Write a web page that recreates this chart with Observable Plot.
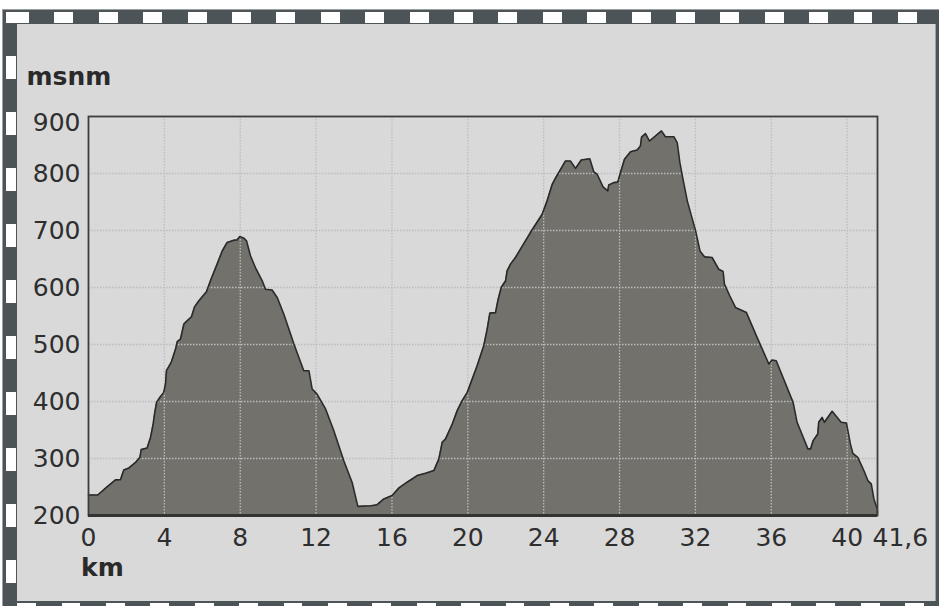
<!DOCTYPE html>
<html>
<head>
<meta charset="utf-8">
<script src="https://cdn.jsdelivr.net/npm/d3@7"></script>
<script src="https://cdn.jsdelivr.net/npm/@observablehq/plot@0.6"></script>
<style>
  html, body { margin: 0; padding: 0; background: #fff; }
  #page { position: relative; width: 939px; height: 606px; overflow: hidden; background: #fff; }
  .abs { position: absolute; }
  #outer { left: 3px; top: 10px; width: 960px; height: 620px; background: #4c5457; box-shadow: 0 0 0 1px #9ca1a3; }
  #inner { left: 17px; top: 24px; width: 918px; height: 577px; background: #d9d9d9; border-right: 1px solid #9ea3a5; }
  #topdash { left: 0; top: 12px; width: 939px; height: 11px;
    background: repeating-linear-gradient(to right, transparent 0 9.9px, #fff 9.9px 28.9px, transparent 28.9px 44.4px); }
  #topfirst { left: 6px; top: 12px; width: 5px; height: 11px; background: #fff; }
  #leftdash { left: 6px; top: 24px; width: 10px; height: 577px;
    background: repeating-linear-gradient(to bottom, transparent 0 32px, #fff 32px 55px, transparent 55px 56px); }
  #botdash { left: 0; top: 603px; width: 939px; height: 11px;
    background: repeating-linear-gradient(to right, transparent 0 17.3px, #fff 17.3px 36px, transparent 36px 44.4px); }
  .lbl { font-family: "DejaVu Sans", Verdana, sans-serif; font-weight: bold; font-size: 25px; line-height: 25px; color: #2a2a2a; white-space: nowrap; }
  #chart { left: 0; top: 0; }
</style>
</head>
<body>
<div id="page">
  <div id="outer" class="abs"></div>
  <div id="inner" class="abs"></div>
  <div id="topdash" class="abs"></div>
  <div id="topfirst" class="abs"></div>
  <div id="leftdash" class="abs"></div>
  <div id="botdash" class="abs"></div>
  <div id="chart" class="abs"></div>
  <div class="abs lbl" style="left:26.5px; top:63.85px;">msnm</div>
  <div class="abs lbl" style="left:81px; top:554.85px;">km</div>
</div>
<script>
const km = [0,0.49,0.9,1.42,1.69,1.86,2.13,2.48,2.71,2.78,3.09,3.27,3.41,3.48,3.59,3.76,3.97,4.06,4.11,4.36,4.59,4.68,4.85,5.03,5.11,5.43,5.59,5.82,6.22,6.43,6.78,7.05,7.31,7.66,7.84,7.98,8.19,8.33,8.54,8.8,9.16,9.33,9.68,9.95,10.3,10.83,11.35,11.62,11.79,12.05,12.5,12.93,13.46,13.9,14.2,14.9,15.22,15.57,16.01,16.37,16.8,17.33,17.77,18.21,18.47,18.65,18.82,19.18,19.44,19.7,19.97,20.49,20.84,21.02,21.16,21.46,21.58,21.76,21.99,22.07,22.25,22.51,23.3,23.92,24.18,24.45,24.62,25.15,25.41,25.68,25.98,26.43,26.64,26.82,27.13,27.38,27.43,27.7,27.91,28.01,28.26,28.58,28.93,29.1,29.16,29.37,29.58,30.21,30.42,30.86,31.04,31.18,31.31,31.57,32.01,32.24,32.48,32.88,33.23,33.46,33.53,33.81,34.11,34.69,35.25,35.87,36.04,36.26,37.15,37.36,37.93,38.07,38.21,38.45,38.5,38.68,38.8,39.21,39.68,39.96,40.17,40.3,40.56,40.88,41.09,41.27,41.41,41.58,41.6];
const elev = [236,236,248,262.5,263,280,283.5,293,302,315.6,318.6,337,360.7,378,398.5,407,416,430.8,454,468.6,492,505,509.6,535.9,538.7,548.7,566,576.7,592.5,611.8,641,664,679,683,683.6,689.5,686.6,682,655.6,635,611.8,597,595.5,582.5,553,500.8,454,454,422,413,387,349,296,258,216,217,219,229,235,248.5,258.4,270,274,278.8,299,328.5,334,360.6,384,401.5,416,462.8,498,527,555,556,576.7,600,611.8,629,641,652.6,696.4,728.6,752,781,791.7,822,822,809,823.8,826,803,798.7,776.5,769.5,780,784,785,797.5,825,838,841.3,848.3,864,870,857,874.6,864.6,864.6,854,819,795.8,752,699.4,664,653.8,652.6,632,628,606,585.5,565,556,512.4,465.8,472.8,471.6,398.5,363.5,316.8,316.8,331.4,343,363.5,372,363.5,382.8,363.5,362.4,325.6,309,302,279,261.3,255.5,229,211.7,205];
const xTicks = [0,4,8,12,16,20,24,28,32,36,40];
const xEnd = [41.6];
const xEndLabel = "41,6";
const yTicks = [200,300,400,500,600,700,800];
const yTop = [900];
const xGrid = [4,8,12,16,20,24,28,32,36,40];
const yGrid = [300,400,500,600,700,800];

const data = km.map((k, i) => ({km: k, elev: elev[i]}));

const chart = Plot.plot({
  width: 939,
  height: 606,
  marginLeft: 88,
  marginRight: 62,
  marginTop: 116,
  marginBottom: 91,
  style: {background: "transparent", fontFamily: "'DejaVu Sans', Verdana, sans-serif", fontSize: "25px", color: "#2e2e2e", overflow: "visible"},
  x: {domain: [0, 41.6]},
  y: {domain: [200, 900]},
  marks: [
    Plot.areaY(data, {x: "km", y1: 200, y2: "elev", fill: "#72716b"}),
    Plot.gridX(xGrid, {stroke: "#bdbdbd", strokeOpacity: 1, strokeWidth: 1.3, strokeDasharray: "1.5,1.5"}),
    Plot.gridY(yGrid, {stroke: "#bdbdbd", strokeOpacity: 1, strokeWidth: 1.3, strokeDasharray: "1.5,1.5"}),
    Plot.lineY(data, {x: "km", y: "elev", stroke: "#2a2a2a", strokeWidth: 1.6}),
    Plot.frame({stroke: "#3d3d3d", strokeWidth: 1.8}),
    Plot.ruleY([200], {stroke: "#333", strokeWidth: 3}),
    Plot.axisX(xTicks, {tickSize: 0, tickPadding: 12.25, label: null}),
    Plot.axisX(xEnd, {tickSize: 0, tickPadding: 12.25, label: null, textAnchor: "start", dx: -5, tickFormat: () => xEndLabel}),
    Plot.axisY(yTicks, {tickSize: 0, tickPadding: 8, label: null}),
    Plot.axisY(yTop, {tickSize: 0, tickPadding: 8, label: null, dy: 6})
  ]
});
document.getElementById("chart").appendChild(chart);
</script>
</body>
</html>
